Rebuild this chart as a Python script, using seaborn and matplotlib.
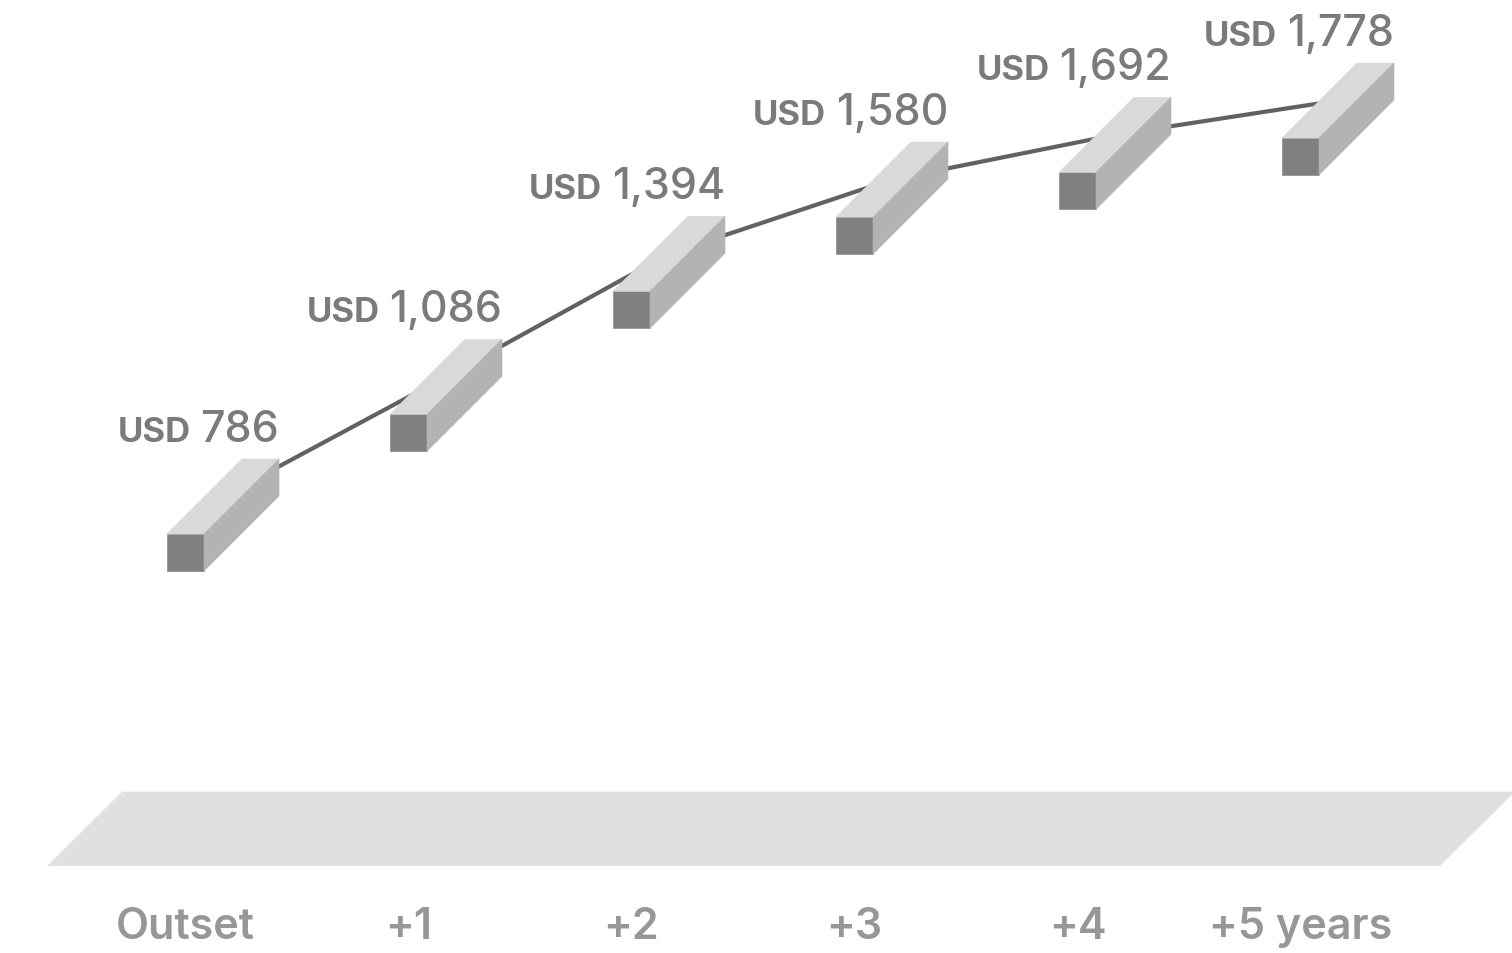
import numpy as np
import pandas as pd
import matplotlib
matplotlib.use("Agg")
import matplotlib.pyplot as plt
from matplotlib.patches import Polygon
import seaborn as sns

# Spending per period
periods = ["Outset", "+1", "+2", "+3", "+4", "+5 years"]
values = [786, 1086, 1394, 1580, 1692, 1778]
value_labels = ["786", "1,086", "1,394", "1,580", "1,692", "1,778"]
currency = "USD"

sns.set_theme(style="white")
plt.rcParams["font.family"] = ["Inter", "DejaVu Sans"]

FRONT = "#808080"
TOP = "#d9d9d9"
SIDE = "#b3b3b3"
FLOOR = "#e0e0e0"
LINE = "#616161"
VALUE_TXT = "#7b7b7b"
CAT_TXT = "#979797"

fig = plt.figure(figsize=(15.12, 9.54), dpi=100)
ax = fig.add_axes([0, 0, 1, 1])

XLIM = (-1.0, 5.7803)
YLIM = (-357.6, 2032.3)

# block geometry in data units (front face width/height, depth offset)
w, h = 0.1659, 92.7
dx, dy = 0.3363, 187.9

# floor slab
floor_top, floor_bot = 46.5, -139.6
floor = Polygon([(-0.789, floor_bot), (5.457, floor_bot),
                 (5.457 + dx, floor_top), (-0.789 + dx, floor_top)],
                closed=True, facecolor=FLOOR, edgecolor="none", zorder=0)
ax.add_patch(floor)

# connecting line through the centre of each block's top face
df = pd.DataFrame({"pos": np.arange(len(values)), "value": values})
sns.lineplot(data=df, x="pos", y="value", color=LINE, linewidth=3.0,
             ax=ax, zorder=1, legend=False)

for i, v in enumerate(values):
    xl = i - dx / 2 - w / 2
    xr = xl + w
    yt = v - dy / 2
    yb = yt - h
    faces = [
        ([(xl, yb), (xr, yb), (xr, yt), (xl, yt)], FRONT),
        ([(xl, yt), (xr, yt), (xr + dx, yt + dy), (xl + dx, yt + dy)], TOP),
        ([(xr, yt), (xr + dx, yt + dy), (xr + dx, yb + dy), (xr, yb)], SIDE),
    ]
    for pts, c in faces:
        ax.add_patch(Polygon(pts, closed=True, facecolor=c, edgecolor=c,
                             linewidth=0.4, zorder=2))

    # value label: number right-aligned to the block's back edge, currency before it
    num = ax.text(xr + dx, v + 139, value_labels[i], ha="right", va="baseline",
                  fontsize=31, fontweight=500, color=VALUE_TXT, zorder=3)
    ax.annotate(currency, xy=(0, v + 139), xycoords=(num, "data"),
                xytext=(-7, 0), textcoords="offset points",
                ha="right", va="baseline", fontsize=25, fontweight="bold",
                color=VALUE_TXT, zorder=3)

    # period label under the floor
    ax.text(i - dx / 2, -290, periods[i], ha="center", va="center",
            fontsize=31, fontweight=600, color=CAT_TXT)

ax.set_xlim(*XLIM)
ax.set_ylim(*YLIM)
ax.axis("off")

fig.savefig("out.png", dpi=100)
